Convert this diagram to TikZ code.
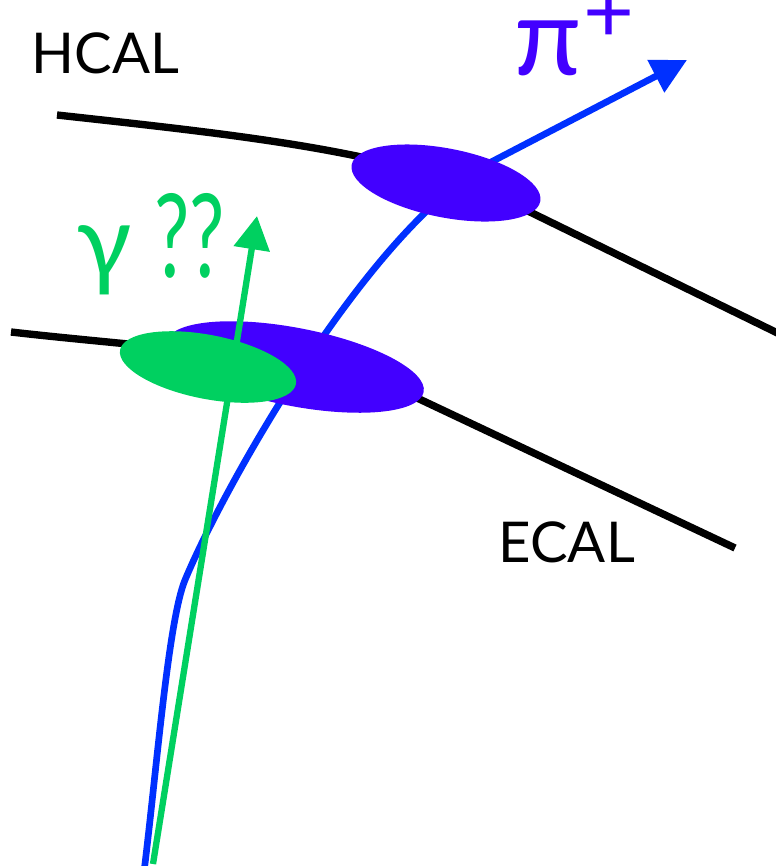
\documentclass[tikz,border=0pt]{standalone}
\usepackage{fontspec}
\setmainfont{Lato}
\usepackage{tikz}
\usetikzlibrary{shapes.geometric, arrows.meta}

\definecolor{pionblue}{RGB}{0,48,255}
\definecolor{clusterviolet}{RGB}{66,0,255}
\definecolor{photongreen}{RGB}{0,208,96}

\begin{document}
\begin{tikzpicture}[
  x=0.01cm, y=-0.01cm,
  layer/.style={line width=2.1pt, black},
  pion/.style={line width=1.9pt, pionblue, -{Triangle[length=10pt, width=10pt]}},
  photon/.style={line width=1.8pt, photongreen, -{Triangle[length=9.5pt, width=10pt]}},
  cluster/.style={ellipse, inner sep=0pt, outer sep=0pt, rotate=-11},
  pioncl/.style={cluster, fill=clusterviolet},
  photoncl/.style={cluster, fill=photongreen},
  calname/.style={font=\fontsize{16}{18}\selectfont, inner sep=0pt, anchor=base west},
  partname/.style={font=\fontsize{29}{32}\selectfont, inner sep=0pt, anchor=base west}
]
\useasboundingbox (0,0) rectangle (776,866);

% calorimeter surfaces
\draw[layer] (57,115) .. controls (257,137) and (410,153) .. (530,212) -- (800,344);
\draw[layer] (11,332) .. controls (150,348) and (330,357) .. (415,397) -- (735,548);

% charged pion track
\coordinate (pionstart) at (144,872);
\coordinate (pionkink) at (185,580);
\coordinate (pionexit) at (495,160);
\coordinate (piontip) at (687,60);
\draw[pion] (pionstart) .. controls (157,766) and (168.5,620) .. (pionkink)
  .. controls (225,484) and (374,220) .. (pionexit) -- (piontip);

% clusters
\node[pioncl, minimum width=1.92cm, minimum height=0.69cm] (hcalhit) at (446,183) {};
\node[pioncl, minimum width=2.62cm, minimum height=0.78cm] (ecalhit) at (295,367) {};
\node[photoncl, minimum width=1.79cm, minimum height=0.64cm] (gammahit) at (208,367) {};

% photon
\coordinate (photonstart) at (153,864);
\coordinate (photontip) at (257,216);
\draw[photon] (photonstart) -- (photontip);

% labels
\node[calname] (hcal) at (31,73) {HCAL};
\node[calname] (ecal) at (498,562) {ECAL};
\node[partname, text=photongreen] (gamma) at (76,277)
  {γ\hspace{0.22cm}\scalebox{0.68}[1]{\fontsize{33}{36}\selectfont ??}};
\node[partname, font=\fontsize{31}{34}\selectfont, text=clusterviolet,
      text height=0.55cm, text depth=0pt] (pionlabel) at (514,75)
  {π\hspace{0.02cm}\raisebox{0.32cm}[0pt][0pt]{\fontsize{25}{25}\selectfont +}};
\end{tikzpicture}
\end{document}
